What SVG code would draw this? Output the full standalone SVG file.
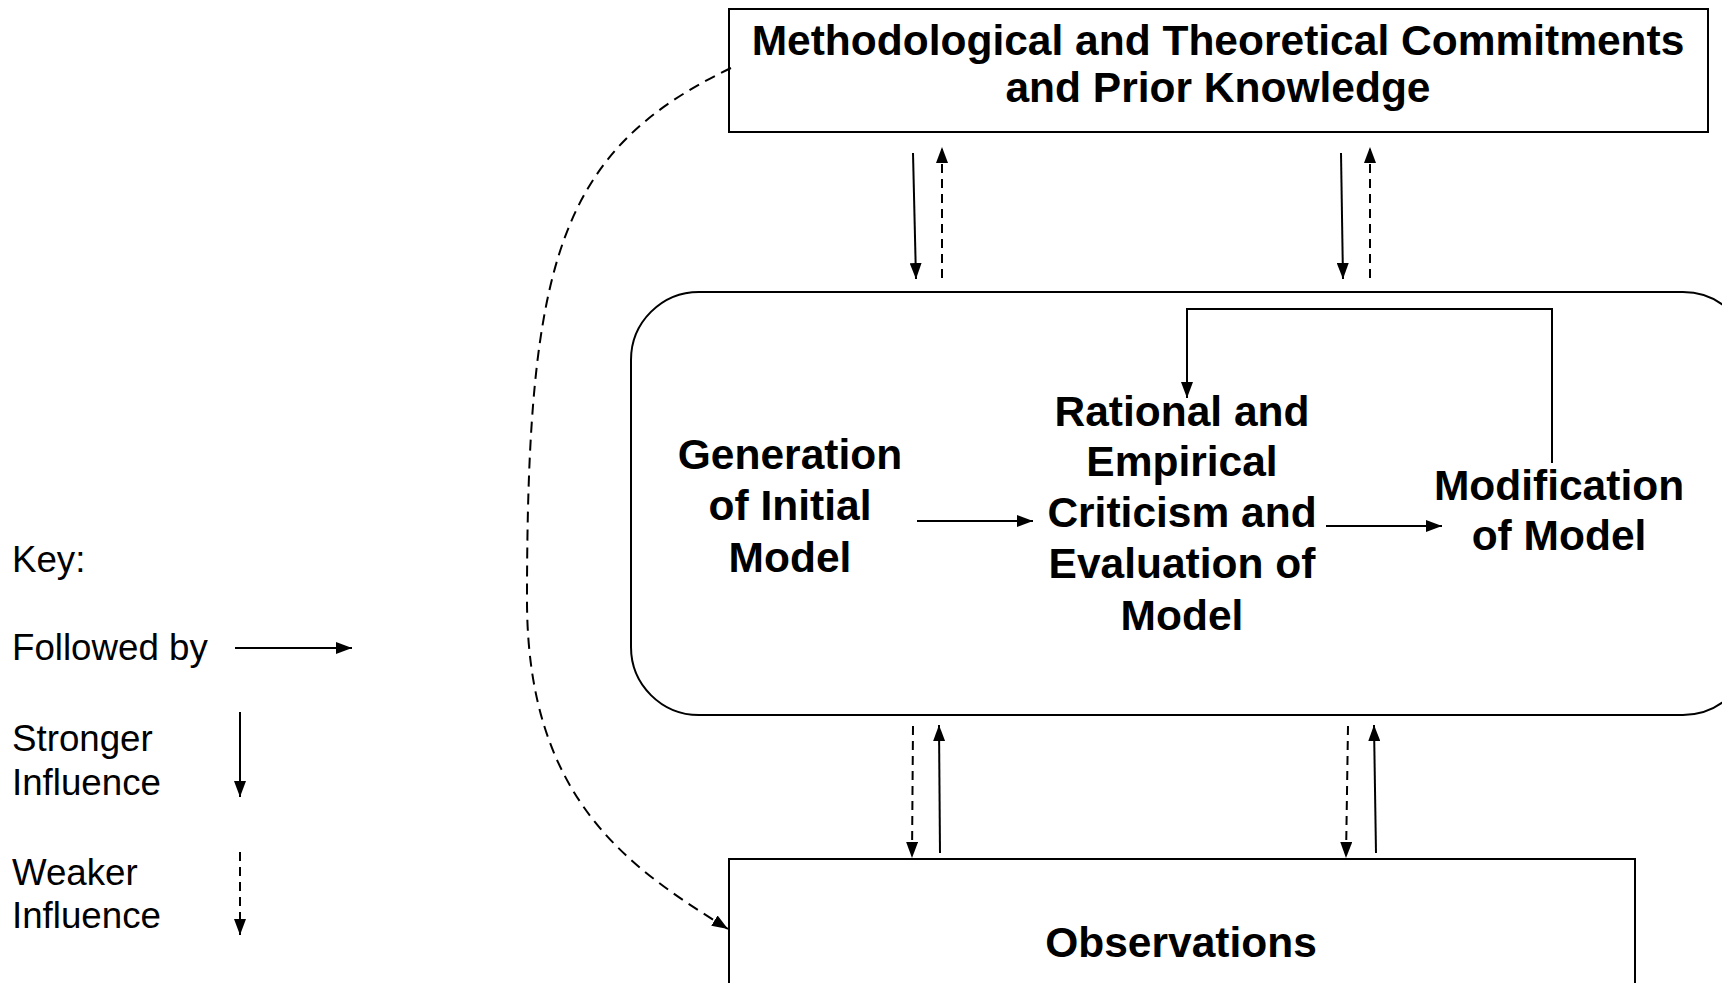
<svg xmlns="http://www.w3.org/2000/svg" width="1722" height="983" viewBox="0 0 1722 983">
<style>
.box{fill:#fff;stroke:#000;stroke-width:2}
.b{font-family:"Liberation Sans",Arial,sans-serif;font-weight:bold;font-size:42.5px;fill:#000;text-anchor:middle}
.r{font-family:"Liberation Sans",Arial,sans-serif;font-size:36.7px;fill:#000}
.ln{fill:none;stroke:#000;stroke-width:2}
.ds{fill:none;stroke:#000;stroke-width:2;stroke-dasharray:9 6}
.dc{fill:none;stroke:#000;stroke-width:2;stroke-dasharray:11 7}
</style>
<defs>
<marker id="ah" markerUnits="userSpaceOnUse" markerWidth="16" markerHeight="12" viewBox="0 0 16 12" refX="16" refY="6" orient="auto">
<path d="M0,0 L16,6 L0,12 Z" fill="#000"/>
</marker>
</defs>
<rect width="1722" height="983" fill="#fff"/>

<g id="top">
<rect class="box" x="729" y="9" width="979" height="123"/>
<text class="b" x="1218" y="55">Methodological and Theoretical Commitments</text>
<text class="b" x="1218" y="102">and Prior Knowledge</text>
</g>

<g id="process">
<rect class="box" x="631" y="292" width="1120" height="423" rx="68" ry="68"/>
</g>

<g id="generation">
<text class="b" x="790" y="469">Generation</text>
<text class="b" x="790" y="520">of Initial</text>
<text class="b" x="790" y="572">Model</text>
</g>

<g id="criticism">
<text class="b" x="1182" y="426">Rational and</text>
<text class="b" x="1182" y="476">Empirical</text>
<text class="b" x="1182" y="527">Criticism and</text>
<text class="b" x="1182" y="578">Evaluation of</text>
<text class="b" x="1182" y="630">Model</text>
</g>

<g id="modification">
<text class="b" x="1559" y="500">Modification</text>
<text class="b" x="1559" y="550">of Model</text>
</g>

<g id="observations">
<rect class="box" x="729" y="859" width="906" height="140"/>
<text class="b" x="1181" y="957">Observations</text>
</g>

<g id="key">
<text class="r" x="12" y="572">Key:</text>
<text class="r" x="12" y="660">Followed by</text>
<text class="r" x="12" y="751">Stronger</text>
<text class="r" x="12" y="795">Influence</text>
<text class="r" x="12" y="885">Weaker</text>
<text class="r" x="12" y="928">Influence</text>
<line class="ln" x1="235" y1="648" x2="352" y2="648" marker-end="url(#ah)"/>
<line class="ln" x1="240" y1="712" x2="240" y2="797" marker-end="url(#ah)"/>
<line class="ds" x1="240" y1="852" x2="240" y2="935" marker-end="url(#ah)"/>
</g>

<g id="connectors">
<line class="ln" x1="913" y1="153" x2="916" y2="279" marker-end="url(#ah)"/>
<line class="ds" x1="942" y1="278" x2="942" y2="147" marker-end="url(#ah)"/>
<line class="ln" x1="1341" y1="153" x2="1343" y2="279" marker-end="url(#ah)"/>
<line class="ds" x1="1370" y1="278" x2="1370" y2="147" marker-end="url(#ah)"/>

<line class="ds" x1="913" y1="726" x2="912" y2="858" marker-end="url(#ah)"/>
<line class="ln" x1="940" y1="853" x2="939" y2="725" marker-end="url(#ah)"/>
<line class="ds" x1="1348" y1="726" x2="1346" y2="858" marker-end="url(#ah)"/>
<line class="ln" x1="1376" y1="853" x2="1374" y2="725" marker-end="url(#ah)"/>

<line class="ln" x1="917" y1="521" x2="1033" y2="521" marker-end="url(#ah)"/>
<line class="ln" x1="1326" y1="526" x2="1442" y2="526" marker-end="url(#ah)"/>
<path class="ln" d="M1552,463 L1552,309 L1187,309 L1187,398" marker-end="url(#ah)"/>

<path class="dc" d="M731,68 C560,150 527,260 527,600 C527,800 630,868 728,929" marker-end="url(#ah)"/>
</g>
</svg>
